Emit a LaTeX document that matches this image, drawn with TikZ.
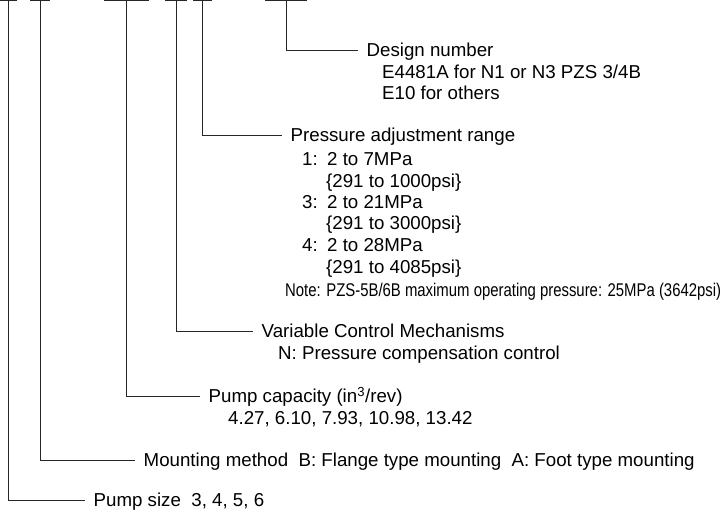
\documentclass[tikz,border=0pt]{standalone}
\usepackage{fontspec}
\setmainfont{Liberation Sans}
\newfontfamily\narrowfont[FakeStretch=0.81]{Liberation Sans}
\tikzset{
  lead/.style={black!85, line width=0.8pt},
  txt/.style={anchor=west, inner xsep=0pt, inner ysep=0pt, text height=13.4pt, text depth=0pt, font=\fontsize{18.7}{21.5}\selectfont},
  title/.style={txt, inner xsep=8.5pt},
}

\begin{document}
\begin{tikzpicture}[x=1pt,y=-1pt]
\useasboundingbox (0,0) rectangle (724,514);
\draw[lead] (0,0.6) -- (17,0.6);
\draw[lead] (30,0.6) -- (50,0.6);
\draw[lead] (104,0.6) -- (149,0.6);
\draw[lead] (165,0.6) -- (187,0.6);
\draw[lead] (193,0.6) -- (212,0.6);
\draw[lead] (265,0.6) -- (307,0.6);
\coordinate (sz) at (8,0.6);
\coordinate (mt) at (40,0.6);
\coordinate (cp) at (126,0.6);
\coordinate (vc) at (176,0.6);
\coordinate (pr) at (202,0.6);
\coordinate (dn) at (286,0.6);

\node[title] (design) at (358,50) {Design number};
\node[txt] (design1) at (382,72) {E4481A for N1 or N3 PZS 3/4B};
\node[txt] (design2) at (382,93) {E10 for others};

\node[title] (range) at (282,135) {Pressure adjustment range};
\node[txt] (range1) at (302,159) {1:};
\node[txt] (range1a) at (327,159) {2 to 7MPa};
\node[txt] (range1b) at (326,181) {\{291 to 1000psi\}};
\node[txt] (range3) at (302,202) {3:};
\node[txt] (range3a) at (327,202) {2 to 21MPa};
\node[txt] (range3b) at (326,223) {\{291 to 3000psi\}};
\node[txt] (range4) at (302,245) {4:};
\node[txt] (range4a) at (327,245) {2 to 28MPa};
\node[txt] (range4b) at (326,267) {\{291 to 4085psi\}};
\node[txt, font=\fontsize{18.4}{21.5}\narrowfont] (note) at (285,290) {Note: PZS-5B/6B maximum operating pressure: 25MPa (3642psi)};

\node[title] (ctrl) at (253,331) {Variable Control Mechanisms};
\node[txt] (ctrl1) at (278,353) {N: Pressure compensation control};

\node[title] (capa) at (200,396) {Pump capacity (in\textsuperscript{3}/rev)};
\node[txt] (capa1) at (228,418) {4.27, 6.10, 7.93, 10.98, 13.42};

\node[title] (mount) at (135,460) {Mounting method\ \ B: Flange type mounting\ \ A: Foot type mounting};

\node[title] (size) at (85,500) {Pump size\ \ 3, 4, 5, 6};

\draw[lead] (dn) |- (design.west);
\draw[lead] (pr) |- (range.west);
\draw[lead] (vc) |- (ctrl.west);
\draw[lead] (cp) |- (capa.west);
\draw[lead] (mt) |- (mount.west);
\draw[lead] (sz) |- (size.west);
\end{tikzpicture}
\end{document}
